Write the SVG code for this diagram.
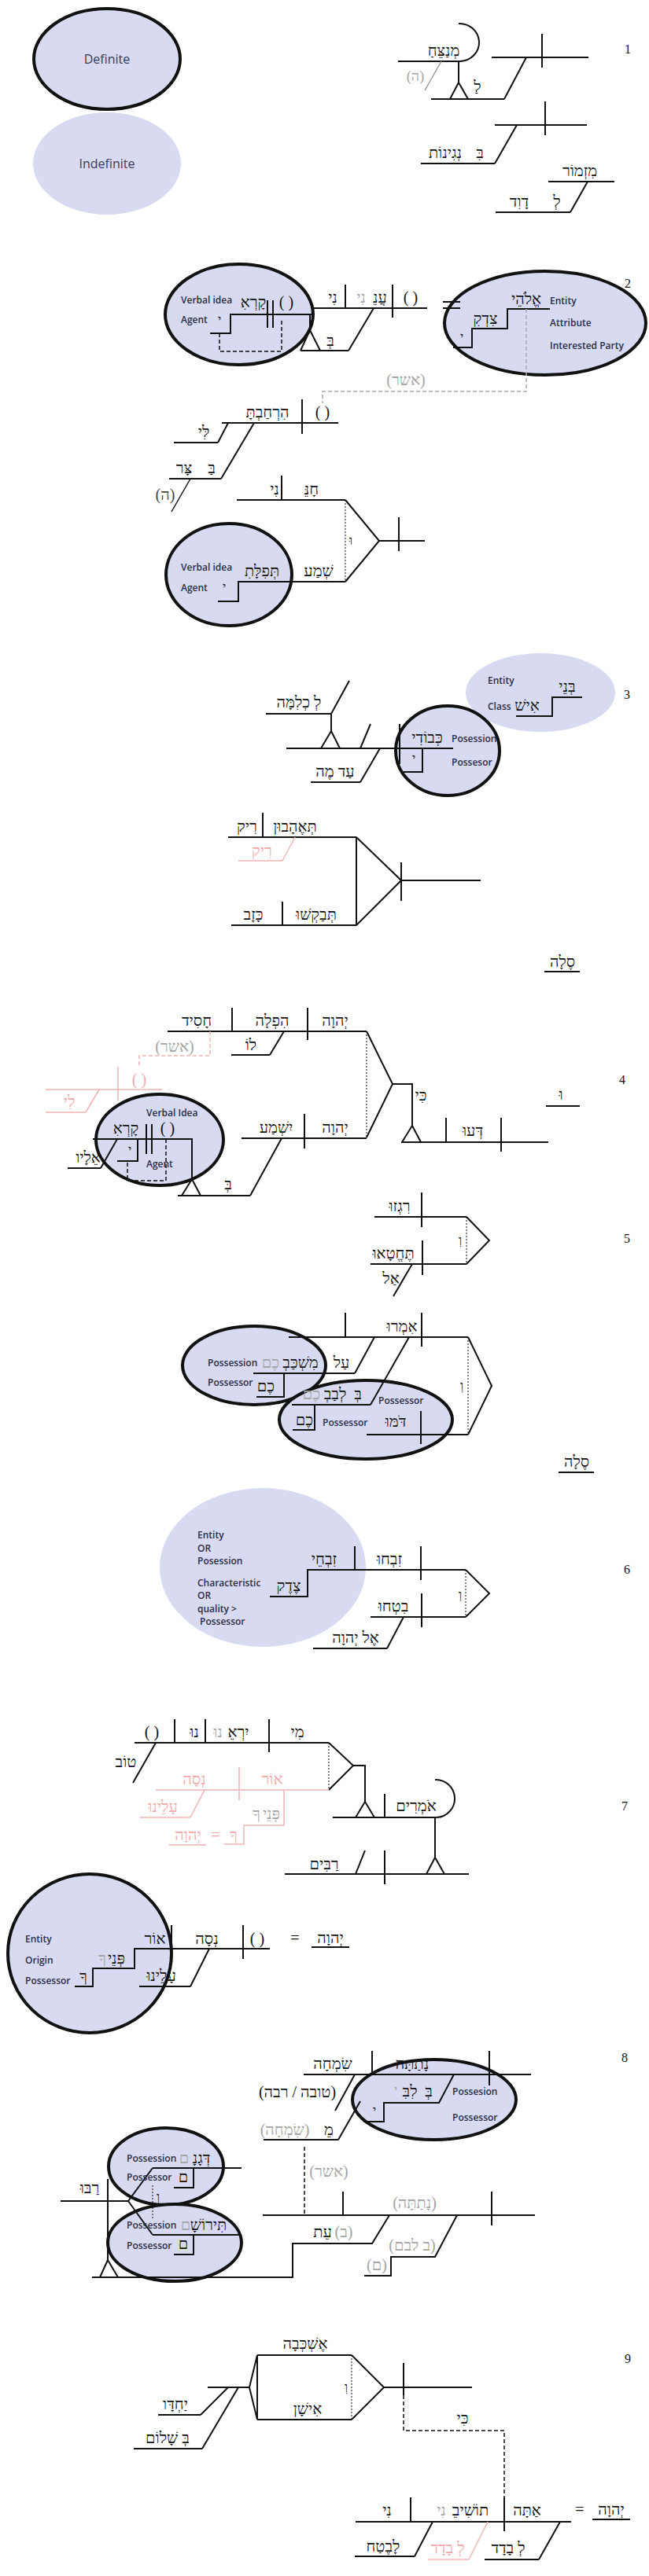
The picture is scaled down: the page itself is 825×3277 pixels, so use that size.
<svg xmlns="http://www.w3.org/2000/svg" width="825" height="3277" viewBox="0 0 825 3277">
<style>
.e{fill:#d7daf0;stroke:#111;stroke-width:4}
.i{fill:#d7daf0}
.l{stroke:#111;stroke-width:2;fill:none}
.d{stroke:#111;stroke-width:1.5;fill:none;stroke-dasharray:5 3}
.dt{stroke:#111;stroke-width:1;fill:none;stroke-dasharray:2 2}
.gd{stroke:#aaa;stroke-width:1.5;fill:none;stroke-dasharray:5 3}
.pd{stroke:#f0b4b4;stroke-width:1.5;fill:none;stroke-dasharray:5 3}
.pl{stroke:#f0b4b4;stroke-width:1.5;fill:none}
.h{font-family:"Liberation Serif","DejaVu Serif",serif;font-size:20px;text-anchor:middle;fill:#111}
.s{font-size:16px}
.g{fill:#a3a3a3}
.p{fill:#f0a8a8}
.n{font-family:"Liberation Serif",serif;font-size:16px;text-anchor:middle;fill:#111}
.t{font-family:"Open Sans","Noto Sans",sans-serif;font-size:12px;font-weight:600;fill:#2b2e48}
.lg{font-family:"Open Sans","Noto Sans",sans-serif;font-size:16px;text-anchor:middle;fill:#3a3d55}
</style>
<rect width="825" height="3277" fill="#fff"/>

<g id="legend-definite"><ellipse class="e" cx="136" cy="75" rx="93" ry="64"/><text class="lg" x="136" y="81">Definite</text></g>
<g id="legend-indefinite"><ellipse class="i" cx="136" cy="208" rx="94" ry="65"/><text class="lg" x="136" y="214">Indefinite</text></g>

<g id="ellipses">
<ellipse id="v2-call" class="e" cx="304" cy="400" rx="94" ry="64"/>
<ellipse id="v2-god" class="e" cx="693" cy="411" rx="128" ry="66"/>
<ellipse id="v2-prayer" class="e" cx="291" cy="731" rx="80" ry="65"/>
<ellipse id="v3-sons" class="i" cx="687" cy="881" rx="95" ry="50"/>
<ellipse id="v3-glory" class="e" cx="569" cy="955" rx="66" ry="57"/>
<ellipse id="v4-call" class="e" cx="203" cy="1450" rx="81" ry="58"/>
<ellipse id="v5-bed" class="e" cx="323" cy="1737" rx="91" ry="50"/>
<ellipse id="v5-heart" class="e" cx="465" cy="1806" rx="110" ry="50"/>
<ellipse id="v6-sacrifices" class="i" cx="334" cy="1994" rx="131" ry="101"/>
<ellipse id="v7-light" class="e" cx="114" cy="2485" rx="104" ry="101"/>
<ellipse id="v8-heart" class="e" cx="552" cy="2671" rx="104" ry="51"/>
<ellipse id="v8-grain" class="e" cx="211" cy="2756" rx="73" ry="49"/>
<ellipse id="v8-wine" class="e" cx="222" cy="2853" rx="85" ry="49"/>
</g>

<g id="connectors">
<!-- v1 -->
<path class="l" d="M625,73H748M689,43V86M669,73L641,126M548,126H641M583,78V105M583,105L572,126M583,105L595,126M506,78H585"/>
<path class="l" d="M583,30A25,24 0 0 1 585,78"/>
<path class="l" style="stroke:#999;stroke-width:1.5" d="M561,78L540,115"/>
<path class="l" d="M629,159H746M693,129V172M657,159L629,208M535,208H629"/>
<path class="l" d="M697,231H781M747,231L725,270M630,270H725"/>
<!-- v2 -->
<path class="l" d="M267,424H293V400H398M398,392H543M439,362V392M499,362V404M340,382V417M347,382V417"/>
<path class="d" d="M358,408V447H279V424"/>
<path class="l" d="M475,392L443,446M382,446H443M394,400V420M394,420L382,446M394,420L407,446"/>
<path class="l" d="M563,384H585M563,392H585"/>
<path class="l" d="M699,393H645V418H600V442H576"/>
<path class="gd" d="M669,393V498H410V513"/>
<path class="l" d="M282,538H430M384,508V552M290,538L277,563M221,563H277M323,538L281,609M215,609H281"/>
<path class="l" style="stroke-width:1.5" d="M242,609L218,651"/>
<path class="l" d="M301,636H439M358,605V636M439,636L482,688L439,740M482,688H540M507,658V701M277,765H303V740H439"/>
<path class="dt" d="M439,636V740"/>
<!-- v3 -->
<path class="l" d="M740,887H702V911H656"/>
<path class="l" d="M364,952H576M338,908H421M421,908L444,866M421,908V930M421,930L408,952M421,930L432,952M458,952L471,921M483,952L458,995M395,995H458M508,921V972M537,952V982H513"/>
<path class="l" d="M290,1065H453M334,1034V1065M453,1065V1177M453,1065L510,1120L453,1177M510,1120H611M510,1097V1146M294,1177H453M359,1147V1177"/>
<path class="pl" d="M375,1065L359,1095M303,1095H359"/>
<path class="l" d="M692,1236H737"/>
<!-- v4 -->
<path class="l" d="M213,1312H466M295,1282V1312M391,1282V1323M361,1312L343,1342M294,1342H343"/>
<path class="pd" d="M267,1312V1343H177V1355"/>
<path class="pl" d="M150,1357V1400M58,1386H206M126,1386L109,1415M58,1415H109"/>
<path class="dt" d="M466,1312V1447"/>
<path class="l" d="M466,1312L499,1379L466,1447M499,1379H524V1432M524,1432L511,1453M524,1432L535,1453M510,1453H697M567,1422V1453M637,1422V1465M694,1407H737"/>
<path class="l" d="M118,1449H244V1500M244,1500L231,1521M244,1500L255,1521M186,1430V1468M193,1430V1468M175,1449V1477H149M149,1449L128,1486M86,1486H128M226,1521H318M318,1521L358,1448M307,1448H466M387,1417V1461"/>
<path class="d" d="M211,1449V1502H162V1477"/>
<!-- v5 -->
<path class="l" d="M476,1548H593M536,1517V1561M593,1548L622,1578L593,1608M471,1608H593M537,1578V1622M524,1608L500,1649"/>
<path class="dt" d="M593,1548V1608"/>
<path class="l" d="M367,1701H595M439,1670V1701M536,1670V1713M595,1701L625,1763L595,1825M476,1701L451,1747M322,1747H451M520,1701L471,1787M371,1787H471M361,1747V1777H326M400,1787V1819H372M535,1795V1837M466,1825H595M710,1873H755"/>
<path class="dt" d="M595,1701V1825"/>
<!-- v6 -->
<path class="l" d="M343,2031H391V1997H592M451,1967V1997M535,1967V2010M592,1997L622,2027L592,2057M471,2057H592M536,2027V2070M513,2057L492,2097M398,2097H492"/>
<path class="dt" d="M592,1997V2057"/>
<!-- v7 -->
<path class="l" d="M171,2217H418M222,2187V2217M261,2187V2217M342,2187V2229M198,2217L169,2268M418,2217L449,2246L418,2277M449,2246H464V2292M464,2292L452,2312M464,2292L476,2312"/>
<path class="dt" d="M418,2217V2277"/>
<path class="pl" d="M198,2277H418M304,2248V2290M260,2277L242,2312M178,2312H242M361,2277V2322H310V2346H285M215,2347H262"/>
<path class="l" d="M423,2312H556M489,2282V2312M553,2264A24,24 0 0 1 555,2312M553,2312V2363M553,2363L542,2384M553,2363L565,2384M362,2384H596M489,2354V2397M452,2384L464,2354"/>
<path class="l" d="M95,2527H118V2504H171V2479H343M218,2449V2479M309,2449V2492M266,2479L242,2527M177,2527H242M396,2477H444"/>
<!-- v8 -->
<path class="l" d="M386,2639H675M473,2609V2639M622,2609V2653M577,2639L558,2675H488V2699H462M451,2639L426,2685M458,2673L430,2722M335,2722H430"/>
<path class="d" d="M387,2731V2818"/>
<path class="l" d="M334,2818H680M436,2788V2818M625,2788V2831M495,2818L473,2854H372V2897H117M581,2818L553,2871H497V2895H463"/>
<path class="l" d="M194,2758H307M246,2758V2783H221M194,2843H307M246,2843V2868H221M77,2800H163M163,2800L194,2758M163,2800L194,2843M137,2772V2875M137,2875L127,2897M137,2875L150,2897"/>
<path class="dt" d="M194,2780V2823"/>
<!-- v9 -->
<path class="l" d="M327,2996H447M327,2996V3078M327,2996L317,3037L327,3078M264,3037H317M447,2996L488,3037L447,3078M488,3037H600M513,3006V3047M327,3078H447M290,3037L255,3072M201,3072H255M303,3037L257,3115M170,3115H257"/>
<path class="dt" d="M447,2996V3078"/>
<path class="d" d="M513,3047V3092H641V3177"/>
<path class="l" d="M452,3208H726M522,3177V3208M641,3177V3220M753,3205H801M550,3208L527,3252M451,3252H527M712,3208L685,3256M616,3256H685"/>
<path class="pl" d="M620,3208L596,3256M544,3256H596"/>
</g>

<g id="v1">
<text class="n" x="798" y="68">1</text>
<text class="h" x="564" y="71">מְנַצֵּחַ</text>
<text class="h g" x="528" y="103" style="font-size:18px">(ה)</text>
<text class="h" x="607" y="117">לַ</text>
<text class="h" x="610" y="201">בִּ</text>
<text class="h" x="566" y="201">נְגִינוֹת</text>
<text class="h" x="737" y="224">מִזְמוֹר</text>
<text class="h" x="708" y="263">לְ</text>
<text class="h" x="660" y="263">דָוִד</text>
</g>

<g id="v2">
<text class="n" x="798" y="366">2</text>
<text class="t" x="230" y="386">Verbal idea</text>
<text class="t" x="230" y="411">Agent</text>
<text class="h" x="322" y="391">קָרְאִ</text>
<text class="h" x="364" y="391">( )</text>
<text class="h s" x="279" y="412">י</text>
<text class="h" x="423" y="385">נִי</text>
<text class="h g" x="459" y="385">נִי</text>
<text class="h" x="483" y="385">עֲנֵ</text>
<text class="h" x="522" y="385">( )</text>
<text class="h" x="420" y="440">בְּ</text>
<text class="h" x="669" y="387">אֱלֹהֵי</text>
<text class="t" x="699" y="387">Entity</text>
<text class="t" x="699" y="415">Attribute</text>
<text class="t" x="699" y="444">Interested Party</text>
<text class="h" x="617" y="412">צִדְקִ</text>
<text class="h s" x="587" y="434">י</text>
<text class="h g" x="516" y="490">(אשר)</text>
<text class="h" x="340" y="531">הִרְחַבְתָּ</text>
<text class="h" x="410" y="531">( )</text>
<text class="h" x="259" y="556">לִּי</text>
<text class="h" x="269" y="602">בַּ</text>
<text class="h" x="234" y="602">צָּר</text>
<text class="h" x="210" y="636" style="fill:#444">(ה)</text>
<text class="h" x="349" y="629">נִי</text>
<text class="h" x="396" y="629">חָנֵּ</text>
<text class="h s" x="446" y="693">וּ</text>
<text class="t" x="230" y="726">Verbal idea</text>
<text class="t" x="230" y="752">Agent</text>
<text class="h" x="333" y="733">תְּפִלָּתִ</text>
<text class="h s" x="285" y="752">י</text>
<text class="h" x="405" y="733">שְׁמַע</text>
</g>

<g id="v3">
<text class="n" x="797" y="889">3</text>
<text class="t" x="620" y="870">Entity</text>
<text class="t" x="620" y="903">Class</text>
<text class="h" x="721" y="880">בְּנֵי</text>
<text class="h" x="670" y="904">אִישׁ</text>
<text class="h" x="380" y="900">לְ כְלִמָּה</text>
<text class="h" x="426" y="988">עַד מֶה</text>
<text class="h" x="543" y="945">כְּבוֹדִי</text>
<text class="t" x="574" y="944">Posession</text>
<text class="t" x="574" y="974">Possesor</text>
<text class="h s" x="526" y="970">י</text>
<text class="h" x="314" y="1058">רִיק</text>
<text class="h" x="375" y="1058">תְּאֶהָבוּן</text>
<text class="h p" x="333" y="1089">רִיק</text>
<text class="h" x="322" y="1170">כָּזָב</text>
<text class="h" x="402" y="1170">תְּבַקְשׁוּ</text>
<text class="h" x="715" y="1230">סֶלָה</text>
</g>

<g id="v4">
<text class="n" x="791" y="1379">4</text>
<text class="h" x="250" y="1305">חָסִיד</text>
<text class="h" x="346" y="1305">הִפְלָה</text>
<text class="h" x="426" y="1305">יְהוָה</text>
<text class="h" x="319" y="1336">לוֹ</text>
<text class="h g" x="222" y="1338">(אשר)</text>
<text class="h p" x="177" y="1380">( )</text>
<text class="h p" x="88" y="1408">לִי</text>
<text class="h" x="535" y="1400">כִּי</text>
<text class="h" x="713" y="1399">וּ</text>
<text class="h" x="601" y="1445">דְּעוּ</text>
<text class="t" x="186" y="1420">Verbal Idea</text>
<text class="t" x="186" y="1485">Agent</text>
<text class="h" x="160" y="1442">קָרְאִ</text>
<text class="h" x="213" y="1442">( )</text>
<text class="h s" x="165" y="1468">י</text>
<text class="h" x="112" y="1479">אֵלָיו</text>
<text class="h" x="290" y="1513">בְּ</text>
<text class="h" x="351" y="1441">יִשְׁמַע</text>
<text class="h" x="426" y="1441">יְהוָה</text>
</g>

<g id="v5">
<text class="n" x="797" y="1581">5</text>
<text class="h" x="508" y="1541">רִגְזוּ</text>
<text class="h s" x="585" y="1583">וְ</text>
<text class="h" x="500" y="1601">תֶּחֱטָאוּ</text>
<text class="h" x="497" y="1633">אַל</text>
<text class="h" x="511" y="1694">אִמְרוּ</text>
<text class="t" x="264" y="1738">Possession</text>
<text class="t" x="264" y="1763">Possessor</text>
<text class="h" x="382" y="1740">מִשְׁכַּבְ</text>
<text class="h g" x="344" y="1740">כֶם</text>
<text class="h" x="434" y="1740">עַל</text>
<text class="h" x="338" y="1770">כֶם</text>
<text class="h" x="455" y="1780">בְּ</text>
<text class="h" x="426" y="1780">לְבַבְ</text>
<text class="h g" x="396" y="1780">כֶם</text>
<text class="t" x="481" y="1786">Possessor</text>
<text class="h" x="387" y="1813">כֶם</text>
<text class="t" x="410" y="1814">Possessor</text>
<text class="h" x="503" y="1815">דֹּמּוּ</text>
<text class="h s" x="587" y="1768">וְ</text>
<text class="h" x="733" y="1866">סֶלָה</text>
</g>

<g id="v6">
<text class="n" x="797" y="2002">6</text>
<text class="t" x="251" y="1957">Entity</text>
<text class="t" x="251" y="1974">OR</text>
<text class="t" x="251" y="1990">Posession</text>
<text class="t" x="251" y="2018">Characteristic</text>
<text class="t" x="251" y="2034">OR</text>
<text class="t" x="251" y="2051">quality &gt;</text>
<text class="t" x="254" y="2067">Possessor</text>
<text class="h" x="412" y="1990">זִבְחֵי</text>
<text class="h" x="367" y="2024">צֶדֶק</text>
<text class="h" x="495" y="1990">זִבְחוּ</text>
<text class="h s" x="585" y="2034">וְ</text>
<text class="h" x="500" y="2050">בִטְחוּ</text>
<text class="h" x="452" y="2090">אֶל יְהוָה</text>
</g>

<g id="v7">
<text class="n" x="794" y="2303">7</text>
<text class="h" x="193" y="2210">( )</text>
<text class="h" x="247" y="2210">נוּ</text>
<text class="h g" x="277" y="2210">נוּ</text>
<text class="h" x="303" y="2210">יִרְאֵ</text>
<text class="h" x="378" y="2210">מִי</text>
<text class="h" x="160" y="2248">טוֹב</text>
<text class="h p" x="247" y="2270">נְסָה</text>
<text class="h p" x="346" y="2270">אוֹר</text>
<text class="h p" x="207" y="2305">עָלֵינוּ</text>
<text class="h g" x="345" y="2314">פְּנֵי</text>
<text class="h g" x="326" y="2314">ךָ</text>
<text class="h p" x="297" y="2341">ךָ</text>
<text class="h p" x="274" y="2341">=</text>
<text class="h p" x="239" y="2341">יְהוָה</text>
<text class="h" x="529" y="2304">אֹמְרִים</text>
<text class="h" x="412" y="2378">רַבִּים</text>
<text class="t" x="32" y="2471">Entity</text>
<text class="t" x="32" y="2498">Origin</text>
<text class="t" x="32" y="2524">Possessor</text>
<text class="h" x="197" y="2473">אוֹר</text>
<text class="h" x="148" y="2498">פְּנֵי</text>
<text class="h g" x="130" y="2498">ךָ</text>
<text class="h" x="106" y="2521">ךָ</text>
<text class="h" x="205" y="2520">עָלֵינוּ</text>
<text class="h" x="263" y="2473">נְסָה</text>
<text class="h" x="327" y="2473">( )</text>
<text class="h" x="375" y="2472">=</text>
<text class="h" x="420" y="2472">יְהוָה</text>
</g>

<g id="v8">
<text class="n" x="794" y="2623">8</text>
<text class="h" x="423" y="2632">שִׂמְחָה</text>
<text class="h" x="524" y="2632">נָתַתָּה</text>
<text class="h" x="545" y="2667">בְּ</text>
<text class="h" x="521" y="2667">לִבִּ</text>
<text class="h g s" x="503" y="2664">י</text>
<text class="t" x="575" y="2665">Possesion</text>
<text class="t" x="575" y="2698">Possessor</text>
<text class="h s" x="476" y="2690">י</text>
<text class="h" x="378" y="2668">(טובה / רבה)</text>
<text class="h" x="418" y="2716">מֵ</text>
<text class="h g" x="362" y="2716">(שִׂמְחָה)</text>
<text class="h g" x="418" y="2769">(אשר)</text>
<text class="h g" x="527" y="2809">(נָתַתָּה)</text>
<text class="h" x="410" y="2846">עֵת</text>
<text class="h g" x="437" y="2846">(ב)</text>
<text class="h g" x="524" y="2863">(ב לבם)</text>
<text class="h g" x="479" y="2888">(ם)</text>
<text class="t" x="161" y="2750">Possession</text>
<text class="t" x="161" y="2774">Possessor</text>
<text class="h" x="256" y="2752">דְּגָנָ</text>
<text class="h g" x="234" y="2752">ם</text>
<text class="h" x="233" y="2776">ם</text>
<text class="h" x="114" y="2790">רַבּוּ</text>
<text class="h s" x="201" y="2800">וְ</text>
<text class="t" x="161" y="2835">Possession</text>
<text class="t" x="161" y="2861">Possessor</text>
<text class="h" x="265" y="2837">תִּירוֹשָׁ</text>
<text class="h g" x="236" y="2837">ם</text>
<text class="h" x="233" y="2861">ם</text>
</g>

<g id="v9">
<text class="n" x="798" y="3006">9</text>
<text class="h" x="388" y="2988">אֶשְׁכְּבָה</text>
<text class="h s" x="440" y="3042">וְ</text>
<text class="h" x="391" y="3071">אִישָׁן</text>
<text class="h" x="223" y="3065">יַחְדָּו</text>
<text class="h" x="213" y="3108">בְּ שָׁלוֹם</text>
<text class="h" x="588" y="3083">כִּי</text>
<text class="h" x="492" y="3200">נִי</text>
<text class="h" x="598" y="3200">תוֹשִׁיבֵ</text>
<text class="h g" x="561" y="3200">נִי</text>
<text class="h" x="670" y="3200">אַתָּה</text>
<text class="h" x="737" y="3199">=</text>
<text class="h" x="777" y="3199">יְהוָה</text>
<text class="h" x="487" y="3246">לָבֶטַח</text>
<text class="h p" x="569" y="3248">לְ בָדָד</text>
<text class="h" x="646" y="3248">לְ בָדָד</text>
</g>
</svg>
